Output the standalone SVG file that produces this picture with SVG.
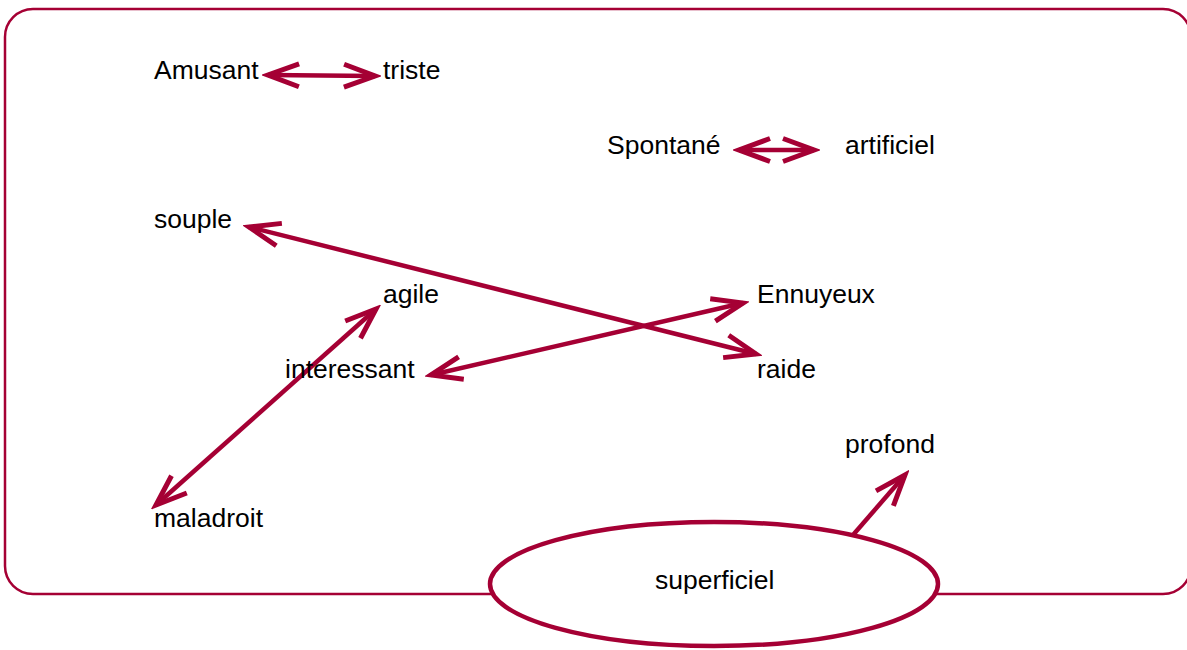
<svg xmlns="http://www.w3.org/2000/svg" width="1187" height="650" viewBox="0 0 1187 650">
<style>
.t{font-family:"Liberation Sans",Arial,sans-serif;font-size:26.5px;fill:#000}
.c{stroke:#A50034;stroke-width:4.5;fill:none}
</style>
<defs>
<marker id="ah" markerUnits="userSpaceOnUse" viewBox="-40 -20 46 40" refX="0" refY="0" markerWidth="46" markerHeight="40" orient="auto-start-reverse">
<path d="M-31,-11.5 L0,0 L-31,11.5" fill="none" stroke="#A50034" stroke-width="5"/>
</marker>
</defs>
<rect id="frame" x="5" y="9" width="1186" height="585" rx="28" ry="28" fill="#fff" stroke="#A50034" stroke-width="2.5"/>
<g id="connectors">
<line class="c" x1="268" y1="75" x2="375" y2="76" marker-start="url(#ah)" marker-end="url(#ah)"/>
<line class="c" x1="739" y1="150" x2="814" y2="150" marker-start="url(#ah)" marker-end="url(#ah)"/>
<line class="c" x1="249" y1="227" x2="756" y2="354" marker-start="url(#ah)" marker-end="url(#ah)"/>
<line class="c" x1="431" y1="375" x2="743" y2="303" marker-start="url(#ah)" marker-end="url(#ah)"/>
<line class="c" x1="376" y1="309" x2="156" y2="505" marker-start="url(#ah)" marker-end="url(#ah)"/>
<line class="c" x1="853" y1="535" x2="905" y2="475" marker-end="url(#ah)"/>
</g>
<g id="n-amusant"><text class="t" x="154" y="79">Amusant</text></g>
<g id="n-triste"><text class="t" x="383" y="79">triste</text></g>
<g id="n-spontane"><text class="t" x="607" y="154">Spontané</text></g>
<g id="n-artificiel"><text class="t" x="845" y="154">artificiel</text></g>
<g id="n-souple"><text class="t" x="154" y="228">souple</text></g>
<g id="n-agile"><text class="t" x="383" y="303">agile</text></g>
<g id="n-ennuyeux"><text class="t" x="757" y="303">Ennuyeux</text></g>
<g id="n-interessant"><text class="t" x="285" y="378">interessant</text></g>
<g id="n-raide"><text class="t" x="757" y="378">raide</text></g>
<g id="n-profond"><text class="t" x="845" y="453">profond</text></g>
<g id="n-maladroit"><text class="t" x="154" y="527">maladroit</text></g>
<g id="n-superficiel">
<ellipse cx="714" cy="584" rx="224" ry="62" fill="#fff" stroke="#A50034" stroke-width="4.5"/>
<text class="t" x="655" y="589">superficiel</text>
</g>
</svg>
